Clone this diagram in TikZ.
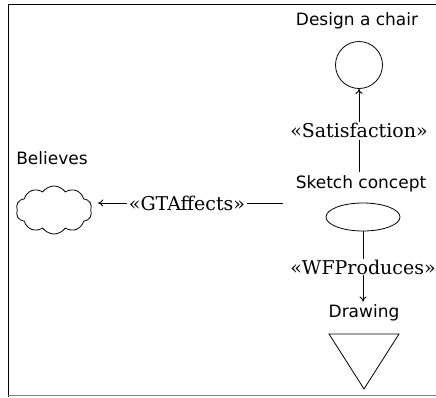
\documentclass[tikz,border=0pt]{standalone}
\usepackage{fontspec}
\setmainfont{DejaVu Serif}
\setsansfont{DejaVu Sans}
\usetikzlibrary{arrows.meta,shapes.geometric,shapes.symbols}
\begin{document}
\begin{tikzpicture}[x=1pt,y=-1pt,
  eltlabel/.style={font=\sffamily\fontsize{17}{19}\selectfont, inner sep=0pt},
  stereo/.style={font=\fontsize{19}{21}\selectfont, inner sep=0pt},
  conn/.style={line width=0.9pt},
  arr/.style={conn, -{To[length=5pt,width=7pt]}},
  shp/.style={draw, line width=0.8pt}]
  \useasboundingbox (0,0) rectangle (436,397);
  % frame
  \draw[line width=1pt] (8,397) -- (8,4) -- (436,4);
  \draw[line width=1pt, gray] (8,395.5) -- (436,395.5);

  % goal
  \node[eltlabel] (goallbl) at (357,21) {Design a chair};
  \node[shp, circle, minimum size=47pt, inner sep=0pt] (goal) at (359,65) {};

  % task
  \node[eltlabel] (tasklbl) at (361,184) {Sketch concept};
  \node[shp, ellipse, minimum width=74pt, minimum height=28pt, inner sep=0pt] (task) at (363,217) {};

  % resource
  \node[eltlabel] (reslbl) at (364,313) {Drawing};
  \node[shp, isosceles triangle, shape border rotate=-90, isosceles triangle stretches,
        minimum width=70pt, minimum height=55pt, inner sep=0pt, anchor=apex] (res) at (364,390) {};

  % belief
  \node[eltlabel] (belieflbl) at (52,158) {Believes};
  \node[shp, cloud, cloud puffs=10, cloud puff arc=110, aspect=1.6,
        minimum width=76pt, minimum height=48pt, inner sep=0pt] (belief) at (54,210) {};

  % links
  \node[stereo] (sat) at (359,130) {«Satisfaction»};
  \draw[conn, shorten <=2pt, shorten >=4pt] (sat.south) -- (sat.south |- tasklbl.north);
  \draw[arr] (sat.north) -- (sat.north |- goal.south);

  \node[stereo] (wfp) at (363,267) {«WFProduces»};
  \draw[conn] (task.south) -- (wfp.north);
  \draw[arr, shorten >=3pt] (wfp.south) -- (wfp.south |- reslbl.north);

  \node[stereo] (gta) at (187,203) {«GTAffects»};
  \coordinate (gtastart) at (283,203);
  \draw[conn, shorten >=2pt] (gtastart) -- (gta.east);
  \draw[arr, shorten <=2pt, shorten >=7pt] (gta.west) -- (gta.west -| belief.east);
\end{tikzpicture}
\end{document}
